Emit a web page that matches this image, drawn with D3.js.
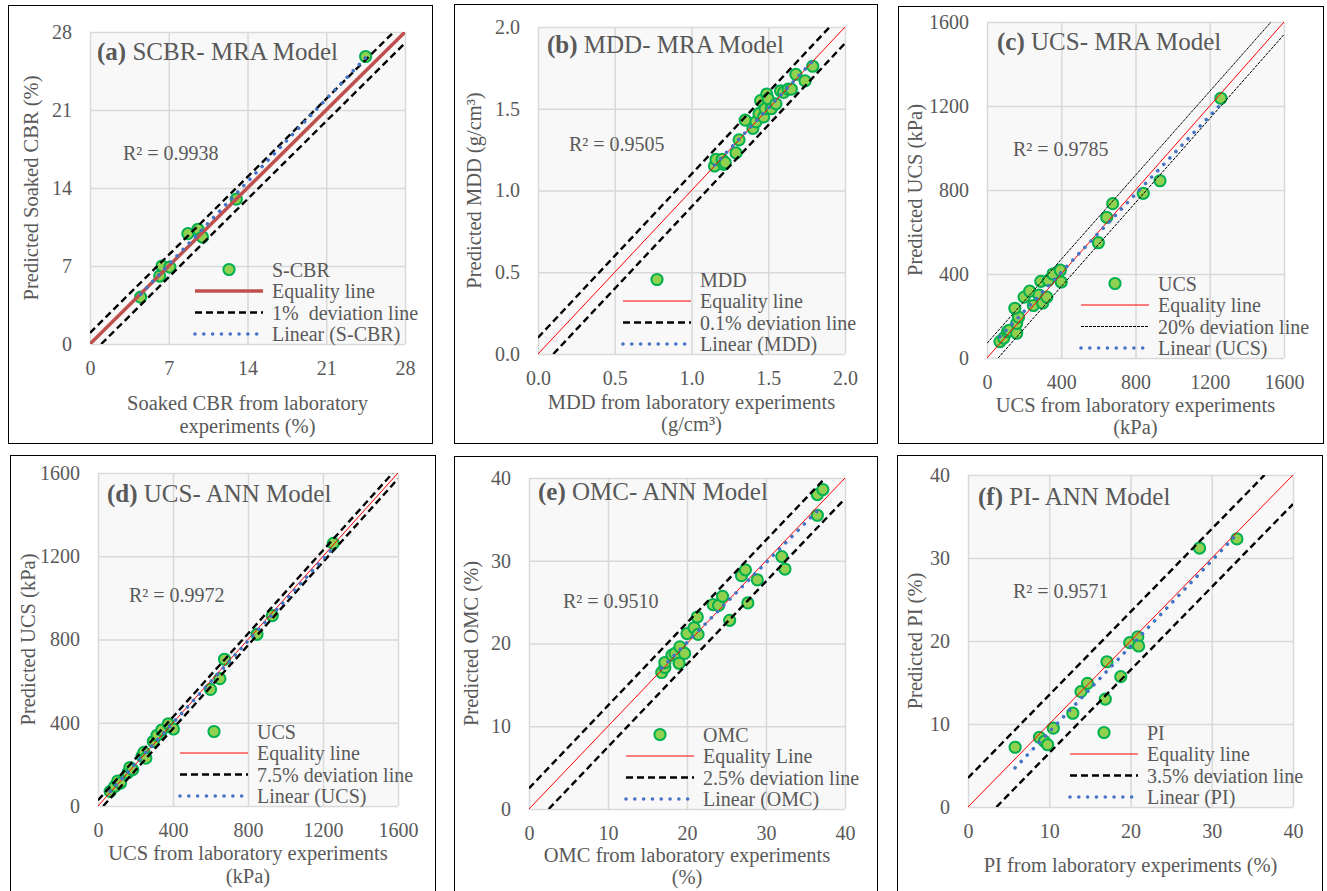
<!DOCTYPE html>
<html>
<head>
<meta charset="utf-8">
<script src="https://cdn.jsdelivr.net/npm/d3@7"></script>
<style>
  body { margin: 0; background: #fff; }
  svg, svg text { font-family: "Liberation Serif", "Tinos", "DejaVu Serif", "Times New Roman", serif; }
</style>
</head>
<body>
<div id="chart"></div>
<script>
/* ----------------- DATA ----------------- */

// (a) soaked CBR, MRA model
const scbrLab  = [4.5, 6.2, 6.4, 7.1, 8.7, 9.6, 10.0, 13.0, 24.5];
const scbrPred = [4.2, 6.1, 7.0, 6.9, 9.9, 10.3, 9.6, 13.0, 25.8];

// (b) MDD, MRA model
const mddLab  = [1.15, 1.16, 1.20, 1.21, 1.22, 1.29, 1.31, 1.35, 1.40, 1.42, 1.44, 1.45, 1.47,
                 1.48, 1.49, 1.50, 1.52, 1.55, 1.58, 1.60, 1.63, 1.65, 1.68, 1.74, 1.79];
const mddPred = [1.15, 1.19, 1.19, 1.16, 1.17, 1.23, 1.31, 1.43, 1.38, 1.42, 1.47, 1.55, 1.45,
                 1.50, 1.59, 1.56, 1.50, 1.53, 1.61, 1.60, 1.62, 1.62, 1.71, 1.67, 1.76];

// (c) UCS, MRA model
const ucsMraLab  = [70, 90, 110, 120, 160, 160, 170, 150, 200, 230, 250, 280, 300, 290, 322,
                    330, 355, 395, 400, 600, 645, 677, 842, 932, 1260];
const ucsMraPred = [78, 95, 125, 132, 118, 165, 195, 237, 290, 318, 250, 300, 262, 365, 290,
                    370, 400, 418, 362, 549, 670, 735, 784, 844, 1237];

// (d) UCS, ANN model
const ucsAnnLab  = [65, 90, 105, 120, 160, 170, 185, 235, 245, 255, 295, 315, 340, 375, 402,
                    600, 650, 675, 848, 930, 1255];
const ucsAnnPred = [70, 95, 120, 110, 160, 185, 175, 240, 258, 230, 310, 340, 365, 395, 370,
                    560, 612, 705, 825, 915, 1262];

// (e) OMC, ANN model
const omcLab  = [16.8, 17.2, 17.2, 18.1, 18.5, 19.0, 19.1, 19.7, 20.0, 20.9, 21.3, 21.4, 23.3,
                 24.0, 24.5, 25.4, 26.9, 27.4, 27.7, 28.9, 32.0, 32.4, 36.5, 36.5, 37.2];
const omcPred = [16.5, 17.1, 17.7, 18.6, 18.8, 17.6, 19.6, 18.8, 21.2, 21.9, 23.2, 21.1, 24.7,
                 24.6, 25.7, 22.8, 28.2, 28.9, 24.9, 27.7, 30.5, 29.0, 35.5, 38.0, 38.6];

// (f) PI, ANN model
const piLab  = [5.8, 8.8, 9.4, 9.8, 10.5, 12.9, 13.9, 14.7, 16.9, 17.1, 18.8, 19.9, 20.9, 21.0, 28.5, 33.1];
const piPred = [7.2, 8.4, 7.9, 7.5, 9.5, 11.3, 13.9, 14.9, 13.0, 17.5, 15.7, 19.8, 20.5, 19.4, 31.2, 32.3];

// tick labels
const cbrTicks = [0, 7, 14, 21, 28];
const mddTicks = [0, 0.5, 1.0, 1.5, 2.0];
const ucsTicks = [0, 400, 800, 1200, 1600];
const pctTicks = [0, 10, 20, 30, 40];

// deviation line offsets (data units, above / below equality)
const scbrDev = [1, -1];
const mddDev = [0.1, -0.1];
const ucsMraDev = [70, -60];
const ucsAnnDev = [28, -28];
const omcDev = [2.5, -2.5];
const piDev = [3.5, -3.5];

const r2Labels = ['R² = 0.9938', 'R² = 0.9505', 'R² = 0.9785', 'R² = 0.9972', 'R² = 0.9510', 'R² = 0.9571'];

/* ----------------- SETTINGS ----------------- */

const W = 1327, H = 891;
const serif = '"Liberation Serif", "Tinos", "DejaVu Serif", "Times New Roman", serif';
const colText = '#595959';
const colGrid = '#D9D9D9';
const colFill = '#92D050';
const colStroke = '#00B050';
const colTrend = '#4472C4';
const dotR = 5.6;

const eqThick = {color: '#C0504D', width: 3.5, dash: null};
const eqThin = {color: '#FF0000', width: 1, dash: null};
const devDash = {color: '#000', width: 2.4, dash: '7,4'};
const devFine = {color: '#000', width: 1, dash: '3,1'};
const trendStyle = {color: colTrend, width: 3.6, dash: '0.01,8.8'};

const panels = [
  {
    tag: '(a)', name: ' SCBR- MRA Model', xs: scbrLab, ys: scbrPred, ticks: cbrTicks, fmt: d3.format('d'),
    dev: scbrDev, eq: eqThick, devStyle: devDash,
    legend: ['S-CBR', 'Equality line', '1%  deviation line', 'Linear (S-CBR)'],
    yTitle: 'Predicted Soaked CBR (%)', xTitle: ['Soaked CBR from laboratory', 'experiments (%)'],
    frame: [8, 5, 424, 438], plot: [90, 32, 405, 344], title: [97, 60], r2: [123, 160],
    legX: 195, yTitleX: 38, xTitleY: [410, 433]
  },
  {
    tag: '(b)', name: ' MDD- MRA Model', xs: mddLab, ys: mddPred, ticks: mddTicks, fmt: d3.format('.1f'),
    dev: mddDev, eq: eqThin, devStyle: devDash,
    legend: ['MDD', 'Equality line', '0.1% deviation line', 'Linear (MDD)'],
    yTitle: 'Predicted  MDD (g/cm³)', xTitle: ['MDD from laboratory experiments', '(g/cm³)'],
    frame: [454, 4, 423, 439], plot: [538, 27, 845, 354], title: [547, 53], r2: [569, 151],
    legX: 623, yTitleX: 481, xTitleY: [409, 431]
  },
  {
    tag: '(c)', name: ' UCS- MRA Model', xs: ucsMraLab, ys: ucsMraPred, ticks: ucsTicks, fmt: d3.format('d'),
    dev: ucsMraDev, eq: eqThin, devStyle: devFine,
    legend: ['UCS', 'Equality line', '20% deviation line', 'Linear (UCS)'],
    yTitle: 'Predicted UCS (kPa)', xTitle: ['UCS from laboratory experiments', '(kPa)'],
    frame: [898, 6, 425, 437], plot: [987, 22, 1284, 358], title: [997, 50], r2: [1013, 156],
    legX: 1081, yTitleX: 922, xTitleY: [412, 434]
  },
  {
    tag: '(d)', name: ' UCS- ANN Model', xs: ucsAnnLab, ys: ucsAnnPred, ticks: ucsTicks, fmt: d3.format('d'),
    dev: ucsAnnDev, eq: eqThin, devStyle: devDash,
    legend: ['UCS', 'Equality line', '7.5% deviation line', 'Linear (UCS)'],
    yTitle: 'Predicted UCS (kPa)', xTitle: ['UCS from laboratory experiments', '(kPa)'],
    frame: [10, 455, 425, 440], plot: [98, 473, 398, 806], title: [107, 502], r2: [129, 602],
    legX: 180, yTitleX: 35, xTitleY: [860, 883]
  },
  {
    tag: '(e)', name: ' OMC- ANN Model', xs: omcLab, ys: omcPred, ticks: pctTicks, fmt: d3.format('d'),
    dev: omcDev, eq: eqThin, devStyle: devDash,
    legend: ['OMC', 'Equality Line', '2.5% deviation line', 'Linear (OMC)'],
    yTitle: 'Predicted OMC (%)', xTitle: ['OMC from laboratory experiments', '(%)'],
    frame: [454, 456, 423, 440], plot: [529, 478, 845, 809], title: [538, 500], r2: [563, 608],
    legX: 626, yTitleX: 478, xTitleY: [862, 884]
  },
  {
    tag: '(f)', name: ' PI- ANN Model', xs: piLab, ys: piPred, ticks: pctTicks, fmt: d3.format('d'),
    dev: piDev, eq: eqThin, devStyle: devDash,
    legend: ['PI', 'Equality line', '3.5% deviation line', 'Linear (PI)'],
    yTitle: 'Predicted PI (%)', xTitle: ['PI from laboratory experiments (%)'],
    frame: [897, 455, 425, 440], plot: [968, 475, 1293, 807], title: [978, 505], r2: [1013, 598],
    legX: 1070, yTitleX: 922, xTitleY: [872]
  }
];

/* ----------------- DRAW ----------------- */

const svg = d3.select('#chart').append('svg')
  .attr('width', W)
  .attr('height', H)
  .style('font-family', serif);

function styleLine(sel, st) {
  sel.attr('stroke', st.color)
    .attr('stroke-width', st.width)
    .attr('fill', 'none');
  if (st.dash) sel.attr('stroke-dasharray', st.dash);
  if (st === trendStyle) sel.attr('stroke-linecap', 'round');
  return sel;
}

// least squares fit of predicted on measured
function linearFit(xs, ys) {
  const mx = d3.mean(xs), my = d3.mean(ys);
  const sxy = d3.sum(xs, (v, i) => (v - mx) * (ys[i] - my));
  const sxx = d3.sum(xs, v => (v - mx) * (v - mx));
  const slope = sxy / sxx;
  return {slope, intercept: my - slope * mx};
}

panels.forEach((p, idx) => {
  const [px0, py0, px1, py1] = p.plot;
  const d0 = p.ticks[0], d1 = p.ticks[p.ticks.length - 1];
  const x = d3.scaleLinear().domain([d0, d1]).range([px0, px1]);
  const y = d3.scaleLinear().domain([d0, d1]).range([py1, py0]);

  const g = svg.append('g');

  // panel frame
  g.append('rect')
    .attr('x', p.frame[0] + 0.5).attr('y', p.frame[1] + 0.5)
    .attr('width', p.frame[2]).attr('height', p.frame[3])
    .attr('fill', 'none').attr('stroke', '#000').attr('stroke-width', 1);

  // plot area
  g.append('rect')
    .attr('x', px0).attr('y', py0)
    .attr('width', px1 - px0).attr('height', py1 - py0)
    .attr('fill', '#F8F8F8');

  // axes + gridlines
  const xAxis = g.append('g')
    .attr('transform', `translate(0,${py1})`)
    .call(d3.axisBottom(x).tickValues(p.ticks).tickFormat(p.fmt).tickSize(-(py1 - py0)));
  const yAxis = g.append('g')
    .attr('transform', `translate(${px0},0)`)
    .call(d3.axisLeft(y).tickValues(p.ticks).tickFormat(p.fmt).tickSize(-(px1 - px0)).tickPadding(18));

  [xAxis, yAxis].forEach(ax => {
    ax.attr('font-family', null).attr('font-size', null);
    ax.select('.domain').remove();
    ax.selectAll('line').attr('stroke', colGrid).attr('stroke-width', 1.5);
    ax.selectAll('text')
      .attr('fill', colText)
      .attr('font-size', 20);
  });
  xAxis.selectAll('text').attr('y', 31).attr('dy', null);

  // clip
  const clipId = 'clip' + idx;
  svg.append('clipPath').attr('id', clipId)
    .append('rect')
    .attr('x', px0).attr('y', py0)
    .attr('width', px1 - px0).attr('height', py1 - py0);

  // scatter
  g.append('g').selectAll('circle')
    .data(p.xs.map((v, i) => [v, p.ys[i]]))
    .join('circle')
    .attr('cx', d => x(d[0]))
    .attr('cy', d => y(d[1]))
    .attr('r', dotR)
    .attr('fill', colFill)
    .attr('stroke', colStroke)
    .attr('stroke-width', 2);

  const lines = g.append('g').attr('clip-path', `url(#${clipId})`);

  // deviation lines
  p.dev.forEach(off => {
    const xa = Math.max(d0, d0 - off), xb = Math.min(d1, d1 - off);
    lines.append('line')
      .attr('x1', x(xa)).attr('y1', y(xa + off))
      .attr('x2', x(xb)).attr('y2', y(xb + off))
      .call(styleLine, p.devStyle);
  });

  // equality line
  lines.append('line')
    .attr('x1', x(d0)).attr('y1', y(d0))
    .attr('x2', x(d1)).attr('y2', y(d1))
    .call(styleLine, p.eq);

  // linear trend
  const fit = linearFit(p.xs, p.ys);
  const [xmin, xmax] = d3.extent(p.xs);
  lines.append('line')
    .attr('x1', x(xmin)).attr('y1', y(fit.intercept + fit.slope * xmin))
    .attr('x2', x(xmax)).attr('y2', y(fit.intercept + fit.slope * xmax))
    .call(styleLine, trendStyle);

  // title
  const t = g.append('text')
    .attr('x', p.title[0]).attr('y', p.title[1])
    .attr('fill', colText).attr('font-size', 25);
  t.append('tspan').attr('font-weight', 'bold').text(p.tag);
  t.append('tspan').text(p.name);

  // R squared
  g.append('text')
    .attr('x', p.r2[0]).attr('y', p.r2[1])
    .attr('fill', colText).attr('font-size', 20)
    .text(r2Labels[idx]);

  // axis titles
  g.append('text')
    .attr('transform', `translate(${p.yTitleX},${(py0 + py1) / 2}) rotate(-90)`)
    .attr('text-anchor', 'middle')
    .attr('fill', colText).attr('font-size', 20.5)
    .text(p.yTitle);

  p.xTitle.forEach((line, i) => {
    g.append('text')
      .attr('x', (px0 + px1) / 2).attr('y', p.xTitleY[i])
      .attr('text-anchor', 'middle')
      .attr('fill', colText).attr('font-size', 20.5)
      .text(line);
  });

  // legend
  const step = 21.5;
  const lastRow = py1 - 10;
  const rows = [0, 1, 2, 3].map(k => lastRow - (3 - k) * step);
  const lx = p.legX, lw = 68;
  const leg = g.append('g');

  leg.append('circle')
    .attr('cx', lx + lw / 2).attr('cy', rows[0]).attr('r', dotR)
    .attr('fill', colFill).attr('stroke', colStroke).attr('stroke-width', 2);
  [p.eq, p.devStyle, trendStyle].forEach((st, k) => {
    leg.append('line')
      .attr('x1', lx).attr('x2', lx + lw)
      .attr('y1', rows[k + 1]).attr('y2', rows[k + 1])
      .call(styleLine, st);
  });
  leg.selectAll('text.lg')
    .data(p.legend)
    .join('text')
    .attr('class', 'lg')
    .attr('x', lx + 77)
    .attr('y', (d, k) => rows[k])
    .attr('dy', '0.35em')
    .attr('fill', colText).attr('font-size', 20)
    .style('white-space', 'pre')
    .text(d => d);
});
</script>
</body>
</html>
